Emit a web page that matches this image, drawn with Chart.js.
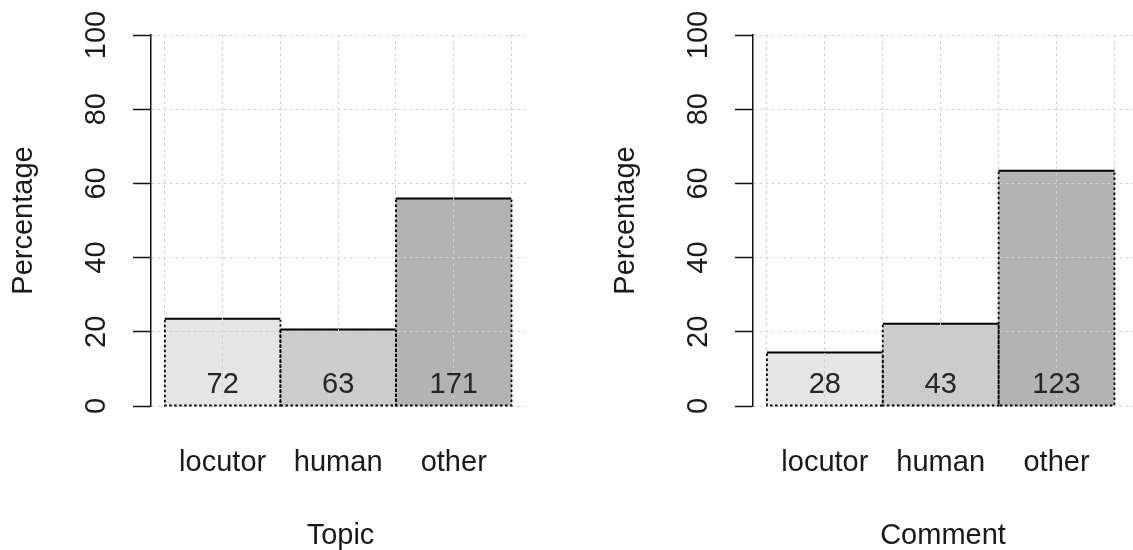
<!DOCTYPE html>
<html>
<head>
<meta charset="utf-8">
<script src="https://cdn.jsdelivr.net/npm/chart.js@4"></script>
<style>
  body { margin: 0; background: #fff; }
  .panel { position: absolute; top: 0; height: 550px; }
  #topicBox { left: 0; width: 566px; }
  #commentBox { left: 602px; width: 531px; }
</style>
</head>
<body>
<div class="panel" id="topicBox"><canvas id="topicChart"></canvas></div>
<div class="panel" id="commentBox"><canvas id="commentChart"></canvas></div>
<script>
/* ================================
   Data
================================ */
const categories = ["locutor", "human", "other"];
const barColors = ["#e5e5e5", "#cccccc", "#b3b3b3"];

const topicPercent = [23.5, 20.6, 55.9];
const topicCounts = [72, 63, 171];

const commentPercent = [14.4, 22.2, 63.4];
const commentCounts = [28, 43, 123];

const yTicks = [0, 20, 40, 60, 80, 100];

Chart.defaults.font.family = "'Liberation Sans', Arial, sans-serif";
Chart.defaults.color = "#1a1a1a";

/* ================================
   Bar outline + count labels
================================ */
function barBox(bar) {
    const { x, y, base, width } = bar.getProps(["x", "y", "base", "width"], true);
    return { l: x - width / 2, r: x + width / 2, x, y, base };
}

const barOutline = {
    id: "barOutline",
    afterDatasetsDraw(chart) {
        // solid top edge, under the grid
        const ctx = chart.ctx;
        ctx.save();
        ctx.strokeStyle = "#000";
        ctx.lineWidth = 2;
        chart.getDatasetMeta(0).data.forEach(bar => {
            const b = barBox(bar);
            ctx.beginPath();
            ctx.moveTo(b.l, b.y);
            ctx.lineTo(b.r, b.y);
            ctx.stroke();
        });
        ctx.restore();
    },
    afterDraw(chart, args, opts) {
        const ctx = chart.ctx;
        ctx.save();
        // dotted sides and bottom
        ctx.strokeStyle = "#000";
        ctx.lineWidth = 1.8;
        ctx.setLineDash([2.5, 2.5]);
        chart.getDatasetMeta(0).data.forEach(bar => {
            const b = barBox(bar);
            ctx.beginPath();
            ctx.moveTo(b.l, b.y + 1);
            ctx.lineTo(b.l, b.base);
            ctx.lineTo(b.r, b.base);
            ctx.lineTo(b.r, b.y + 1);
            ctx.stroke();
        });
        ctx.setLineDash([]);
        // counts
        ctx.font = "29px 'Liberation Sans', Arial, sans-serif";
        ctx.fillStyle = "#262626";
        ctx.textAlign = "center";
        ctx.textBaseline = "middle";
        chart.getDatasetMeta(0).data.forEach((bar, i) => {
            ctx.fillText(String(opts.counts[i]), bar.x, bar.base - 21);
        });
        ctx.restore();
    }
};

/* ================================
   Panel builder
================================ */
function buildPanel(id, percents, counts, xTitle, rightPad) {
    const points = categories.map((c, i) => ({ x: i + 0.5, y: percents[i] }));
    const gridDash = [3, 3];
    const gridColor = "#d0d0d0";

    new Chart(document.getElementById(id), {
        type: "bar",
        data: {
            datasets: [{
                data: points,
                backgroundColor: barColors,
                borderWidth: 0,
                barThickness: "flex",
                categoryPercentage: 1,
                barPercentage: 1
            }]
        },
        options: {
            responsive: true,
            maintainAspectRatio: false,
            animation: false,
            layout: { padding: { top: 35, right: rightPad, bottom: 0, left: 0 } },
            plugins: {
                legend: { display: false },
                tooltip: { enabled: false },
                barOutline: { counts: counts }
            },
            scales: {
                x: {
                    type: "linear",
                    offset: false,
                    min: -0.12,
                    max: 3.16,
                    afterBuildTicks: s => {
                        const t = [];
                        for (let i = 0; i <= categories.length * 2; i++) t.push({ value: i / 2 });
                        s.ticks = t;
                    },
                    afterFit: s => {
                        s.height = 144;
                        s.paddingLeft = 0;
                        s.paddingRight = 0;
                    },
                    grid: { offset: false, color: gridColor, lineWidth: 1, drawTicks: false, z: 1 },
                    border: { display: false, dash: gridDash, z: 1 },
                    ticks: {
                        padding: 40,
                        font: { size: 29 },
                        color: "#1a1a1a",
                        maxRotation: 0,
                        autoSkip: false,
                        callback: v => {
                            const i = v - 0.5;
                            return Number.isInteger(i) ? categories[i] : "";
                        }
                    },
                    title: { display: true, text: xTitle, font: { size: 29 }, padding: { top: 0, bottom: -3 } }
                },
                y: {
                    min: 0,
                    max: 100,
                    afterBuildTicks: s => { s.ticks = yTicks.map(v => ({ value: v })); },
                    afterFit: s => { s.width = 151; },
                    grid: {
                        color: gridColor,
                        lineWidth: 1,
                        tickColor: "#111",
                        tickWidth: 1.5,
                        tickLength: 18,
                        z: 1
                    },
                    border: { display: true, color: "#111", width: 1.5, dash: gridDash, z: 1 },
                    ticks: {
                        minRotation: 90,
                        crossAlign: "center",
                        padding: 12,
                        font: { size: 29 },
                        color: "#1a1a1a"
                    },
                    title: { display: true, text: "Percentage", font: { size: 29 }, padding: { top: 7, bottom: 0 } }
                }
            }
        },
        plugins: [barOutline]
    });
}

buildPanel("topicChart", topicPercent, topicCounts, "Topic", 36);
buildPanel("commentChart", commentPercent, commentCounts, "Comment", 0);
</script>
</body>
</html>
